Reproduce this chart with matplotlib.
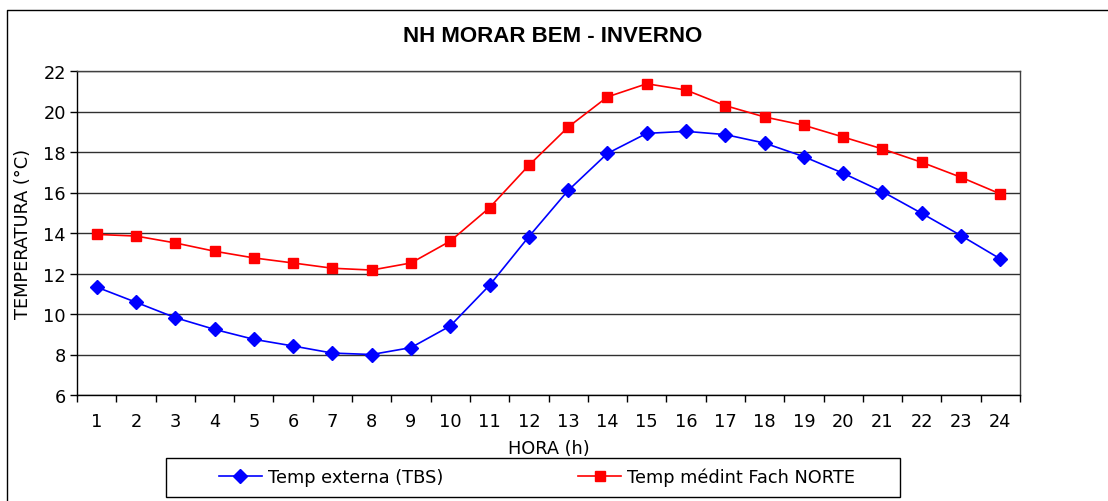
import matplotlib
matplotlib.use("Agg")
import matplotlib.pyplot as plt
from matplotlib.lines import Line2D
from matplotlib.patches import Rectangle

# data
horas = list(range(1, 25))
temp_externa = [11.33, 10.58, 9.82, 9.24, 8.75, 8.42, 8.07, 8.0, 8.34, 9.41, 11.42, 13.82,
                16.1, 17.93, 18.92, 19.02, 18.86, 18.44, 17.77, 16.95, 16.04, 14.97, 13.87, 12.72]
temp_norte = [13.93, 13.85, 13.51, 13.1, 12.77, 12.52, 12.26, 12.17, 12.52, 13.6, 15.25, 17.34,
              19.23, 20.72, 21.37, 21.06, 20.29, 19.73, 19.32, 18.74, 18.15, 17.49, 16.75, 15.93]
y_ticks = [6, 8, 10, 12, 14, 16, 18, 20, 22]

W, H = 1108, 502
fig = plt.figure(figsize=(W / 100, H / 100), dpi=100)
ax = fig.add_axes([77 / W, 1 - 396 / H, (1020 - 77) / W, (396 - 72) / H])

ax.plot(horas, temp_externa, color="#0000ff", lw=1.2, marker="D", markersize=7.5,
        label="Temp externa (TBS)", zorder=3)
ax.plot(horas, temp_norte, color="#ff0000", lw=1.2, marker="s", markersize=7,
        label="Temp médint Fach NORTE", zorder=3)

ax.set_xlim(0.5, 24.5)
ax.set_ylim(6, 22)
ax.set_yticks(y_ticks)
ax.set_xticks([h + 0.5 for h in [0] + horas])
ax.set_xticklabels([])
ax.set_xticks(horas, minor=True)
ax.set_xticklabels([str(h) for h in horas], minor=True)
ax.tick_params(axis="x", which="major", direction="out", length=5, width=1)
ax.tick_params(axis="x", which="minor", length=0, pad=12, labelsize=12.8)
ax.tick_params(axis="y", direction="out", length=5, width=1, labelsize=12.8, pad=3)

ax.grid(axis="y", color="#303030", lw=1)
ax.set_axisbelow(True)
for s in ax.spines.values():
    s.set_color("black")
    s.set_linewidth(1)
ax.spines["right"].set_color("#404040")
ax.spines["top"].set_color("#404040")

ax.set_ylabel("TEMPERATURA (°C)", fontsize=12.8, labelpad=8)
ax.set_xlabel("HORA (h)", fontsize=12.8, labelpad=7)

fig.text(553 / W, 1 - 36 / H, "NH MORAR BEM - INVERNO", ha="center", va="center",
         fontsize=16, fontweight="bold", family="Liberation Sans")

# legend box drawn separately, entries placed inside it
fig.add_artist(Rectangle((166 / W, 4 / H), 734 / W, 39 / H, transform=fig.transFigure,
                         facecolor="none", edgecolor="black", lw=1))
leg = fig.legend(loc="center", bbox_to_anchor=(537 / W, 1 - 478 / H),
                 ncol=2, fontsize=12.8, frameon=False,
                 handlelength=2.4, handletextpad=0.35, columnspacing=7.6)

# outer chart border
fig.add_artist(Line2D([7 / W, 7 / W, 1], [0, 1 - 11 / H, 1 - 11 / H], color="black", lw=1))

fig.savefig("out.png", dpi=100)
